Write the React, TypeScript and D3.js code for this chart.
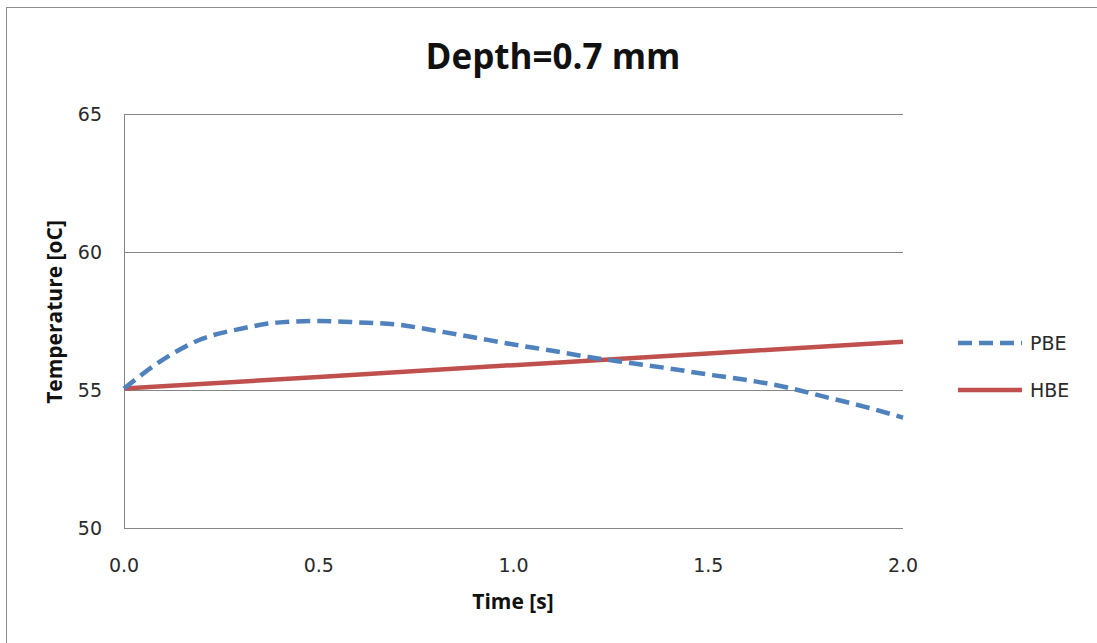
import { useEffect, useRef } from "react";
import * as d3 from "d3";

const times = [0, 0.1, 0.2, 0.3, 0.4, 0.5, 0.6, 0.7, 0.8, 0.9, 1.0, 1.1, 1.2, 1.3, 1.4, 1.5, 1.6, 1.7, 1.8, 1.9, 2.0];
const pbe = [55.05, 56.1, 56.85, 57.22, 57.45, 57.5, 57.45, 57.37, 57.15, 56.9, 56.65, 56.42, 56.18, 55.98, 55.78, 55.56, 55.36, 55.1, 54.75, 54.4, 54.0];
const hbeTimes = [0, 1.0, 2.0];
const hbe = [55.05, 55.9, 56.75];
const xTicks = [0, 0.5, 1.0, 1.5, 2.0];
const yTicks = [50, 55, 60, 65];

const App = () => {
  const svgRef = useRef<SVGSVGElement>(null);

  useEffect(() => {
    const width = 1097;
    const height = 643;
    const margin = { top: 114, right: 194, bottom: 115, left: 124 };

    const svg = d3.select(svgRef.current);
    svg.selectAll("*").remove();

    // outer chart frame (only top and left edges show in the original)
    svg.append("rect")
      .attr("x", 6.5).attr("y", 7.5)
      .attr("width", width + 20).attr("height", height + 20)
      .attr("fill", "white")
      .attr("stroke", "#8c8c8c");

    const x = d3.scaleLinear()
      .domain([0, 2])
      .range([margin.left, width - margin.right]);

    const y = d3.scaleLinear()
      .domain([50, 65])
      .range([height - margin.bottom, margin.top]);

    // gridlines
    svg.append("g")
      .selectAll("line")
      .data(yTicks)
      .join("line")
        .attr("x1", margin.left)
        .attr("x2", width - margin.right)
        .attr("y1", (d) => Math.round(y(d)) + 0.5)
        .attr("y2", (d) => Math.round(y(d)) + 0.5)
        .attr("stroke", "#868686")
        .attr("stroke-width", 1);

    // y axis line
    svg.append("line")
      .attr("x1", margin.left + 0.5).attr("x2", margin.left + 0.5)
      .attr("y1", margin.top).attr("y2", Math.round(y(50)) + 0.5)
      .attr("stroke", "#868686");

    const tickFont = "'DejaVu Sans', sans-serif";
    const boldFont = "'Open Sans', Lato, sans-serif";

    svg.append("g")
      .selectAll("text")
      .data(yTicks)
      .join("text")
        .attr("x", 102)
        .attr("y", (d) => y(d) + 7)
        .attr("text-anchor", "end")
        .attr("font-family", tickFont)
        .attr("font-size", 19)
        .attr("fill", "#2a2a2a")
        .text((d) => d);

    svg.append("g")
      .selectAll("text")
      .data(xTicks)
      .join("text")
        .attr("x", (d) => x(d))
        .attr("y", 572)
        .attr("text-anchor", "middle")
        .attr("font-family", tickFont)
        .attr("font-size", 19)
        .attr("fill", "#2a2a2a")
        .text((d) => d.toFixed(1));

    const line = d3.line<[number, number]>()
      .x((d) => x(d[0]))
      .y((d) => y(d[1]))
      .curve(d3.curveMonotoneX);

    svg.append("path")
      .datum(hbeTimes.map((t, i) => [t, hbe[i]] as [number, number]))
      .attr("fill", "none")
      .attr("stroke", "#c0504d")
      .attr("stroke-width", 4.5)
      .attr("d", line);

    svg.append("path")
      .datum(times.map((t, i) => [t, pbe[i]] as [number, number]))
      .attr("fill", "none")
      .attr("stroke", "#4f81bd")
      .attr("stroke-width", 4.5)
      .attr("stroke-dasharray", "14,7")
      .attr("d", line);

    // title
    svg.append("text")
      .attr("x", 553)
      .attr("y", 69)
      .attr("text-anchor", "middle")
      .attr("font-family", boldFont)
      .attr("font-weight", "bold")
      .attr("font-size", 35)
      .attr("fill", "#111")
      .text("Depth=0.7 mm");

    // axis titles
    svg.append("text")
      .attr("x", 513)
      .attr("y", 609)
      .attr("text-anchor", "middle")
      .attr("font-family", boldFont)
      .attr("font-weight", "bold")
      .attr("font-size", 21)
      .attr("fill", "#111")
      .text("Time [s]");

    svg.append("text")
      .attr("transform", `translate(62, 312) rotate(-90)`)
      .attr("text-anchor", "middle")
      .attr("font-family", boldFont)
      .attr("font-weight", "bold")
      .attr("font-size", 21)
      .attr("fill", "#111")
      .text("Temperature [oC]");

    // legend
    const legend = [
      { name: "PBE", color: "#4f81bd", dash: "14,7", y: 343 },
      { name: "HBE", color: "#c0504d", dash: null, y: 390 },
    ];
    const lg = svg.append("g");
    legend.forEach((l) => {
      lg.append("line")
        .attr("x1", 958).attr("x2", 1022)
        .attr("y1", l.y).attr("y2", l.y)
        .attr("stroke", l.color)
        .attr("stroke-width", 4.5)
        .attr("stroke-dasharray", l.dash);
      lg.append("text")
        .attr("x", 1030)
        .attr("y", l.y + 7)
        .attr("font-family", tickFont)
        .attr("font-size", 19)
        .attr("fill", "#2a2a2a")
        .text(l.name);
    });
  }, []);

  return (
    <svg
      ref={svgRef}
      width={1097}
      height={643}
      style={{ position: "absolute", left: 0, top: 0, background: "white" }}
    />
  );
};

export default App;
